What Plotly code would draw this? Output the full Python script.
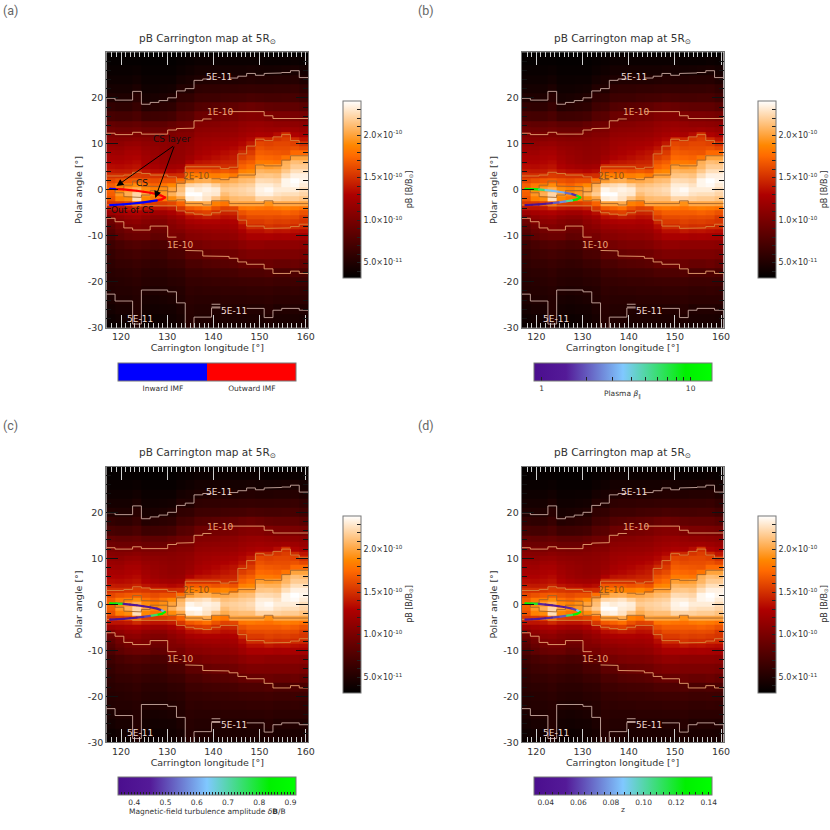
import numpy as np
import plotly.graph_objects as go

# pB grid, units of 1e-12 B/Bsun. One list per longitude column, top to bottom.
lon_edges = [116.8, 118.7, 120.6, 122.5, 124.4, 126.3, 128.2, 130.1, 132.0, 133.9, 135.8, 137.7,
             139.6, 141.5, 143.4, 145.3, 147.2, 149.1, 151.0, 152.9, 154.8, 156.7, 158.6, 160.6]
lat_rows = [30, 28, 26, 24, 22, 20, 18, 16, 14, 13, 12, 11, 10, 9, 8, 7, 6, 5, 4, 3, 2, 1, 0,
            -1, -2, -3, -4, -5, -6, -7, -8, -9, -10, -12, -14, -16, -18, -20, -22, -24, -26, -28, -30]
pb_columns = [
    [33,35,37,40,44,50,60,72,88,95,102,108,113,118,122,126,130,134,141,150,160,170,172,170,165,153,138,120,103,93,86,80,75,67,62,58,55,53,51,47,43,40,37],
    [33,35,37,40,44,49,58,70,86,93,100,107,112,117,121,125,129,133,140,150,165,182,190,195,185,155,138,124,113,104,96,90,85,72,66,61,57,54,52,50,46,42,38],
    [33,35,37,40,44,49,58,70,86,93,100,108,115,121,125,128,131,135,141,152,168,185,198,205,190,160,140,128,118,110,103,96,90,76,68,62,58,55,52,50,46,42,38],
    [33,35,38,42,48,55,63,74,88,95,103,110,116,122,126,130,133,137,145,155,170,190,205,222,226,180,148,130,120,112,105,98,92,78,70,64,60,57,54,52,52,51,48],
    [32,34,36,38,41,45,52,66,84,92,101,108,113,117,120,123,126,130,138,153,165,178,190,200,188,158,140,125,114,107,102,97,92,76,68,62,57,54,50,46,43,40,38],
    [32,34,36,38,41,46,54,67,84,92,100,107,112,115,117,119,121,126,135,151,162,172,185,190,180,156,138,122,111,104,98,92,86,73,66,60,56,53,49,45,42,39,37],
    [32,34,36,39,42,48,56,68,84,92,101,107,111,113,115,116,118,123,134,151,165,180,192,195,182,156,138,122,111,104,98,92,87,74,67,61,56,53,50,46,43,40,38],
    [32,34,36,39,43,50,58,70,88,96,103,108,110,112,113,114,116,122,132,148,165,188,200,206,190,160,142,128,118,111,107,104,101,84,73,65,59,55,51,48,44,42,40],
    [33,36,39,44,51,59,68,80,93,101,106,110,112,113,114,115,118,124,135,150,178,205,212,218,202,172,153,135,124,117,111,105,99,85,74,66,60,56,53,51,48,45,43],
    [34,37,41,46,50,60,70,82,95,102,107,112,114,116,118,122,130,150,168,185,198,222,236,240,232,200,168,150,135,125,118,112,107,97,84,74,67,62,59,56,54,53,52],
    [35,39,44,49,58,66,78,92,105,110,114,118,120,122,125,129,137,150,168,185,203,225,232,240,235,200,172,155,138,128,120,113,108,98,85,74,67,62,58,55,52,50,46],
    [35,39,44,50,59,67,80,94,106,111,115,119,122,125,128,132,139,150,168,186,205,228,235,232,228,204,178,158,142,130,122,115,110,101,90,78,69,63,59,55,52,50,46],
    [34,38,44,50,59,67,82,97,107,112,116,120,124,127,131,135,141,150,165,184,200,220,232,230,215,185,165,150,140,130,123,117,112,103,92,80,70,64,59,55,50,47,44],
    [34,38,44,50,60,69,84,99,109,113,117,121,125,129,134,138,144,150,168,188,202,212,218,212,204,180,158,145,136,128,122,117,112,103,93,81,71,64,60,56,51,48,44],
    [34,38,44,50,60,70,86,101,110,114,118,123,127,132,137,141,145,150,165,182,205,215,220,218,210,201,160,146,137,130,124,119,114,105,95,83,72,65,60,56,51,48,44],
    [34,38,44,51,61,71,90,105,114,118,122,127,132,138,147,156,165,172,185,200,210,218,222,220,212,200,180,165,155,146,135,127,121,110,100,88,75,66,60,56,51,48,44],
    [34,38,45,52,62,73,92,107,116,120,125,132,140,148,155,162,170,178,188,200,212,220,225,222,212,200,182,170,162,155,148,136,127,114,103,90,76,67,61,57,51,48,44],
    [34,38,44,51,61,72,90,106,117,122,128,148,160,165,170,175,183,198,208,215,225,232,235,233,222,200,180,170,162,155,147,136,127,114,103,90,76,67,61,57,51,48,44],
    [33,37,43,51,61,71,87,103,115,120,127,146,158,162,168,174,182,196,206,216,224,232,238,234,222,192,178,170,163,158,152,140,128,112,102,92,78,68,62,58,54,50,46],
    [33,37,44,52,62,71,86,101,113,120,134,152,160,163,167,172,180,198,206,214,222,228,232,228,220,202,182,170,162,156,149,137,126,112,102,90,74,66,60,56,50,47,44],
    [33,37,45,52,62,72,86,101,113,122,150,156,160,163,166,180,205,208,216,226,236,236,232,226,218,202,184,172,163,157,150,138,127,112,102,90,74,66,60,56,51,47,44],
    [33,38,46,53,63,72,86,100,112,120,130,148,158,165,175,200,212,218,226,234,240,238,232,226,218,202,182,170,162,155,148,136,126,112,102,92,76,67,61,56,51,47,44],
    [33,37,43,49,59,68,82,98,110,117,125,138,150,160,175,200,210,218,226,234,236,232,226,222,214,201,178,165,155,152,147,134,124,110,100,88,74,66,60,56,50,46,43],
]

# Contour levels per longitude column, None where a label interrupts the line
c5_upper = [19.9, 19.5, 19.5, 21.4, 18.6, 19.0, 19.4, 20.0, 21.5, 22.0, 23.8, 24.1, None, None, 24.3, 24.7, 25.3, 24.9, 25.3, 25.4, 25.5, 25.9, 24.4]
c10_upper = [12.3, 12.0, 12.0, 12.5, 12.1, 12.1, 12.1, 13.0, 13.3, 13.4, 15.0, 15.4, None, None, 17.0, 17.0, 17.0, 17.0, 16.1, 15.5, 15.5, 15.5, 15.5]
c15_upper = [3.0, 3.0, 3.2, 3.8, 3.55, 3.2, 3.2, 2.8, 1.7, 5.0, 5.0, 5.0, 5.0, 4.6, 4.9, 7.8, 9.5, 11.0, 10.7, 11.5, 12.0, 10.7, 10.1]
c20_upper = [0.3, 1.0, 1.9, 0.8, 0.66, 0.66, -0.43, 1.4, 2.2, None, None, 2.4, 2.2, 2.7, 3.2, 3.2, 5.4, 5.2, 5.2, 6.45, 7.4, 7.4]
c20_lower = [-0.65, -1.5, -1.66, -1.15, -0.2, -0.2, -2.4, -2.2, -3.0, -3.0, -3.3, -2.4, -2.4, -3.0, -3.0, -3.0, -3.0, -2.4, -3.0, -3.0, -3.0, -3.0]
c15_lower = [-3.3, -3.3, -3.3, -3.5, -3.5, -3.5, -3.5, -3.5, -4.6, -5.0, -5.3, -5.5, -5.0, -4.6, -4.6, -6.6, -7.9, -7.9, -8.4, -8.3, -8.3, -8.0, -7.5]
c10_lower = [-6.2, -6.95, -8.3, -8.76, -8.76, -7.9, -7.9, -10.3, None, -13.2, -13.3, -14.4, -14.5, -14.5, -14.9, -15.7, -16.2, -16.2, -17.2, -18.2, -18.2, -17.7, -18.2]
c5_lower = [-22.7, -24.2, -24.2, -29.2, -21.8, -21.7, -21.8, -22.2, -24.6, -31.0, -27.7, -27.7, -25.7, None, None, None, -25.8, -25.8, -27.8, -26.2, -25.8, -25.8, -26.2]

# Spacecraft track and the quantities it is coloured by
track_lon = [117.6, 119.05, 120.5, 121.95, 123.4, 124.85, 126.3, 127.75, 128.8, 129.55,
             128.8, 127.75, 126.3, 124.85, 123.4, 121.95, 120.5, 119.05, 117.6]
track_lat = [0.22, 0.15, 0.08, -0.07, -0.21, -0.43, -0.65, -0.94, -1.3, -1.66,
             -2.1, -2.32, -2.53, -2.75, -2.9, -3.04, -3.19, -3.26, -3.33]
imf_polarity = [0, 1, 1, 1, 1, 1, 1, 1, 1, 1, 1, 0, 0, 0, 0, 0, 0, 0, 0]
plasma_beta = [12, 11, 6, 3.8, 3.3, 3.1, 2.2, 1.6, 8, 10, 9, 5, 2.6, 2, 1.5, 1.2, 1, 0.95, 0.9]
turbulence = [0.85, 0.8, 0.42, 0.42, 0.42, 0.43, 0.44, 0.45, 0.6, 0.85, 0.85, 0.75, 0.5, 0.47, 0.42, 0.4, 0.4, 0.38, 0.38]
compressibility = [0.13, 0.12, 0.055, 0.05, 0.05, 0.05, 0.055, 0.06, 0.09, 0.13, 0.13, 0.11, 0.065, 0.06, 0.055, 0.05, 0.05, 0.045, 0.045]

# Colour bar ticks
pb_ticks = list(range(40, 250, 10))
pb_labels = {50: "5.0×10<sup>-11</sup>", 100: "1.0×10<sup>-10</sup>", 150: "1.5×10<sup>-10</sup>", 200: "2.0×10<sup>-10</sup>"}
beta_ticks = [1, 2, 3, 4, 5, 6, 7, 8, 9, 10]
turb_ticks = [round(0.35 + 0.01 * i, 2) for i in range(57)]
z_ticks = [round(0.036 + 0.004 * i, 3) for i in range(27)]

RED_TEMP = [[0, "rgb(0,0,0)"], [0.47, "rgb(174,0,0)"], [0.69, "rgb(255,106,0)"], [0.75, "rgb(255,135,0)"], [1, "rgb(255,255,255)"]]
PURPLE_GREEN = [[0, "rgb(75,14,142)"], [0.18, "rgb(84,26,152)"], [0.5, "rgb(128,200,255)"], [0.85, "rgb(0,240,0)"], [1, "rgb(0,255,0)"]]
BLUE_RED = [[0, "rgb(0,0,255)"], [0.5, "rgb(0,0,255)"], [0.5, "rgb(255,0,0)"], [1, "rgb(255,0,0)"]]
TEXT = "#333333"
FONT = "DejaVu Sans"
W, H = 830, 830

beta_log = [float(np.log10(v)) for v in plasma_beta]
panels = [
    dict(tag="(a)", dx=0, dy=0, values=imf_polarity, scale=BLUE_RED, vmin=0, vmax=1,
         tickvals=[0.25, 0.75], ticktext=["Inward IMF", "Outward IMF"], ticklen=0, title="", title_y=394),
    dict(tag="(b)", dx=415.3, dy=0, values=beta_log, scale=PURPLE_GREEN, vmin=-0.054, vmax=1.1416,
         tickvals=[float(np.log10(v)) for v in beta_ticks],
         ticktext=[str(v) if v in (1, 10) else "" for v in beta_ticks], ticklen=4,
         title="Plasma <i>β</i><sub>∥</sub>", title_y=394.5),
    dict(tag="(c)", dx=0, dy=414.5, values=turbulence, scale=PURPLE_GREEN, vmin=0.349, vmax=0.919,
         tickvals=turb_ticks,
         ticktext=[f"{v:.1f}" if round(v * 100) % 10 == 0 else "" for v in turb_ticks], ticklen=3,
         title="Magnetic-field turbulence amplitude <i>δ</i><b>B</b>/B", title_y=396.5),
    dict(tag="(d)", dx=415.3, dy=414.5, values=compressibility, scale=PURPLE_GREEN, vmin=0.0326, vmax=0.1418,
         tickvals=z_ticks,
         ticktext=[f"{v:.2f}" if round(v * 1000) % 20 == 0 else "" for v in z_ticks], ticklen=3,
         title="z", title_y=395),
]


def scale_color(scale, value):
    """Colour of a 0-1 position on one of the colour scales above."""
    stops = [s[0] for s in scale]
    rgb = [[float(c) for c in s[1][4:-1].split(",")] for s in scale]
    parts = [np.interp(value, stops, [c[k] for c in rgb]) for k in range(3)]
    return f"rgb({parts[0]:.0f},{parts[1]:.0f},{parts[2]:.0f})"


def steps(levels, first=0):
    """Staircase through the longitude columns, broken where a level is None."""
    xs, ys = [], []
    for i, level in enumerate(levels, first):
        if level is None:
            xs.append(None)
            ys.append(None)
        else:
            xs += [lon_edges[i], lon_edges[i + 1]]
            ys += [level, level]
    return xs, ys


def add_contour(fig, xs, ys, color, xa, ya):
    fig.add_trace(go.Scatter(x=xs, y=ys, mode="lines", line=dict(color=color, width=0.9),
                             showlegend=False, hoverinfo="skip", xaxis=xa, yaxis=ya))


def add_panel(fig, idx, p):
    xa, ya = f"x{idx}", f"y{idx}"
    dx, dy = p["dx"], p["dy"]

    z = [list(r) for r in zip(*pb_columns)][::-1]
    fig.add_trace(go.Heatmap(
        x=lon_edges, y=lat_rows[::-1], z=z, colorscale=RED_TEMP, zmin=32, zmax=240,
        xaxis=xa, yaxis=ya, hoverinfo="skip",
        colorbar=dict(
            x=(342.7 + dx) / W, xanchor="left", xpad=0, y=1 - (101 + dy) / H, yanchor="top", ypad=0,
            thickness=18, len=177, lenmode="pixels", outlinecolor="#777777", outlinewidth=1,
            ticks="inside", ticklen=4, tickcolor="#222222", tickwidth=1,
            tickvals=pb_ticks, ticktext=[pb_labels.get(v, "") for v in pb_ticks],
            tickfont=dict(family=FONT, size=8, color=TEXT),
            title=dict(text="pB [B/B<sub>⊙</sub>]", side="right", font=dict(family=FONT, size=8, color=TEXT)),
        ),
    ))

    for levels, color in [(c5_upper, "#c9a9a0"), (c10_upper, "#e8a070"), (c15_upper, "#d8843a"),
                          (c15_lower, "#d8843a"), (c10_lower, "#e8a070"), (c5_lower, "#c9a9a0")]:
        add_contour(fig, *steps(levels), color, xa, ya)
    lx, ly = steps(c20_lower, 1)
    ux, uy = steps(c20_upper, 1)
    add_contour(fig, lx[::-1] + ux, ly[::-1] + uy, "#a5642a", xa, ya)
    add_contour(fig, *steps([-24.9], 12), "#c9a9a0", xa, ya)
    add_contour(fig, *steps([-25.5], 12), "#c9a9a0", xa, ya)

    # Track coloured by the panel's quantity, one line piece per step
    for i in range(len(track_lon) - 1):
        t = (p["values"][i] - p["vmin"]) / (p["vmax"] - p["vmin"])
        fig.add_trace(go.Scatter(
            x=track_lon[i:i + 2], y=track_lat[i:i + 2], mode="lines",
            line=dict(color=scale_color(p["scale"], t), width=2.2), showlegend=False, hoverinfo="skip",
            xaxis=xa, yaxis=ya))
    fig.add_trace(go.Scatter(
        x=track_lon, y=track_lat, mode="markers", showlegend=False, hoverinfo="skip", xaxis=xa, yaxis=ya,
        marker=dict(
            size=2, color=p["values"], colorscale=p["scale"], cmin=p["vmin"], cmax=p["vmax"],
            colorbar=dict(
                orientation="h", x=(118.4 + dx) / W, xanchor="left", xpad=0,
                y=1 - (362.7 + dy) / H, yanchor="top", ypad=0,
                thickness=18, len=177.6, lenmode="pixels", outlinecolor="#777777", outlinewidth=1,
                ticks="inside" if p["ticklen"] else "", ticklen=p["ticklen"], tickcolor="#222222", tickwidth=1,
                tickvals=p["tickvals"], ticktext=p["ticktext"],
                tickfont=dict(family=FONT, size=7.5, color=TEXT),
            ),
        ),
    ))
    if p["title"]:
        fig.add_annotation(x=(207.2 + dx) / W, y=1 - (p["title_y"] + dy) / H, xref="paper", yref="paper",
                           xanchor="center", yanchor="middle", showarrow=False, text=p["title"],
                           font=dict(family=FONT, size=7.5, color=TEXT))

    x0, x1 = (106.3 + dx) / W, (308.3 + dx) / W
    y0, y1 = 1 - (327.7 + dy) / H, 1 - (52.3 + dy) / H
    suffix = "" if idx == 1 else str(idx)
    fig.update_layout({
        f"xaxis{suffix}": dict(
            domain=[x0, x1], range=[116.8, 160.56], anchor=ya, mirror="ticks", showline=True,
            linecolor="#777777", linewidth=1, showgrid=False, zeroline=False,
            tickvals=[120, 130, 140, 150, 160], ticks="inside", ticklen=13, tickcolor="#cfcfcf", tickwidth=1,
            tickfont=dict(family=FONT, size=9.5, color=TEXT),
            minor=dict(tickmode="linear", tick0=0, dtick=1, ticks="inside", ticklen=5, tickcolor="#cfcfcf", showgrid=False),
            title=dict(text="Carrington longitude [°]", standoff=1, font=dict(family=FONT, size=9.5, color=TEXT)),
        ),
        f"yaxis{suffix}": dict(
            domain=[y0, y1], range=[-30, 29.9], anchor=xa, mirror="ticks", showline=True,
            linecolor="#777777", linewidth=1, showgrid=False, zeroline=False,
            tickvals=[-30, -20, -10, 0, 10, 20], ticktext=["-30", "-20", "-10", "0", "10", "20"],
            ticks="inside", ticklen=12, tickcolor="#111111", tickwidth=1,
            tickfont=dict(family=FONT, size=9.5, color=TEXT),
            minor=dict(tickmode="linear", tick0=0, dtick=2, ticks="inside", ticklen=5, tickcolor="#111111", showgrid=False),
            title=dict(text="Polar angle [°]", standoff=3, font=dict(family=FONT, size=9.5, color=TEXT)),
        ),
    })

    labels = [("5E-11", 141.2, 24.5, "#f2dfd6"), ("1E-10", 141.5, 16.9, "#eda878"), ("2E-10", 136.2, 3.0, "#8c4f1c"),
              ("1E-10", 132.7, -12.0, "#eda878"), ("5E-11", 144.4, -26.3, "#f2dfd6"), ("5E-11", 124.2, -28.1, "#f2dfd6")]
    for text, lon, lat, color in labels:
        fig.add_annotation(x=lon, y=lat, xref=xa, yref=ya, text=text, showarrow=False,
                           font=dict(family=FONT, size=9, color=color))
    fig.add_annotation(x=(207.3 + dx) / W, y=1 - (38.8 + dy) / H, xref="paper", yref="paper", showarrow=False,
                       xanchor="center", yanchor="middle",
                       text="pB Carrington map at 5R<sub>⊙</sub>", font=dict(family=FONT, size=10.5, color=TEXT))
    fig.add_annotation(x=(1 + dx) / W, y=1 - (11 + dy) / H, xref="paper", yref="paper", showarrow=False,
                       xanchor="left", yanchor="middle",
                       text=p["tag"], font=dict(family="Roboto", size=12.5, color="#666666"))


fig = go.Figure()
for idx, p in enumerate(panels, 1):
    add_panel(fig, idx, p)

# Labels and arrows only in panel (a)
for text, lon, lat in [("CS layer", 131.0, 11.0), ("CS", 124.5, 1.4), ("Out of CS", 122.5, -4.5)]:
    fig.add_annotation(x=lon, y=lat, xref="x1", yref="y1", text=text, showarrow=False,
                       font=dict(family=FONT, size=9, color="#111111"))
for lon, lat in [(119.0, 0.8), (127.4, -1.8)]:
    fig.add_annotation(x=lon, y=lat, ax=131.6, ay=9.7, xref="x1", yref="y1", axref="x1", ayref="y1",
                       text="", showarrow=True, arrowhead=2, arrowsize=1.4, arrowwidth=1, arrowcolor="#000000")

fig.update_layout(width=W, height=H, margin=dict(l=0, r=0, t=0, b=0, autoexpand=False), plot_bgcolor="white",
                  paper_bgcolor="white", showlegend=False, font=dict(family=FONT, color=TEXT))
fig.write_html("out.html", config={"displayModeBar": False},
               post_script="document.body.style.margin='0';")
